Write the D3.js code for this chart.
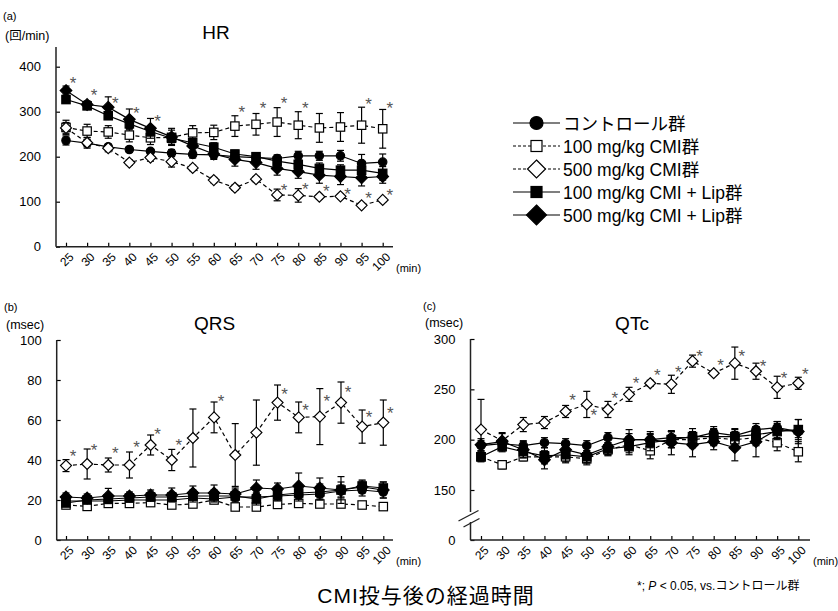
<!DOCTYPE html>
<html><head><meta charset="utf-8">
<script src="https://cdn.jsdelivr.net/npm/d3@7"></script>
<style>
html,body{margin:0;padding:0;background:#fff;}
text{font-family:"Liberation Sans",Arial,"Noto Sans CJK JP",sans-serif;fill:#000;}
</style></head>
<body><svg id="chart" width="838" height="611"></svg>
<script>
// ---------- data ----------
const times = ["25","30","35","40","45","50","55","60","65","70","75","80","85","90","95","100"];
const groups = ["コントロール群","100 mg/kg CMI群","500 mg/kg CMI群","100 mg/kg CMI + Lip群","500 mg/kg CMI + Lip群"];

// HR (回/min)
const hrCtrl     = [236,230,222,216,212,208,205,204,200,198,196,202,202,202,185,188];
const hrCtrlErr  = [10,8,6,6,6,8,8,8,8,8,8,10,10,12,20,18];
const hrCMI100   = [265,257,255,248,242,243,253,254,268,272,277,270,264,266,270,262];
const hrCMI100Err= [16,15,14,15,15,16,16,16,23,24,32,30,32,32,40,43];
const hrCMI500   = [264,231,219,187,198,189,175,148,131,150,115,114,111,112,92,104];
const hrCMI500Err= [12,12,8,6,8,12,6,6,6,6,13,15,5,5,5,5];
const hrLip100   = [327,313,291,273,256,241,231,221,206,200,190,183,174,170,170,163];
const hrLip100Err= [8,8,8,10,10,10,10,10,8,8,8,10,12,12,15,15];
const hrLip500   = [347,316,310,283,263,244,224,206,194,187,174,167,159,156,153,156];
const hrLip500Err= [10,8,23,23,22,19,12,12,15,15,15,15,18,18,18,15];
const hrSig = [[25,370],[30,344],[35,327],[40,304],[45,285],[65,305],[70,315],[75,326],[80,315],[95,324],[100,315],
               [75,132],[80,135],[85,130],[90,124],[95,115],[100,122]];

// QRS (msec)
const qrsCtrl     = [19.5,19.5,19.5,20,20,20,21,20.5,21.5,21.5,22,22.5,23,24.5,25,24];
const qrsCtrlErr  = [1.5,1.5,1.5,1.5,1.5,2,2,2,2,2,2,3,3,3,3,3];
const qrsCMI100   = [17.5,16.8,18.3,18.3,18.7,17.5,18,20,16.5,16.5,17.8,18.3,18,18,17.5,16.7];
const qrsCMI100Err= [1.5,1.5,1.5,1.5,1.5,1.5,1.5,1.5,1.5,1.5,1.5,1.5,1.5,1.5,1.5,1.5];
const qrsCMI500   = [37.2,38,37.5,37.5,47.5,40,51,61.3,42.5,53.7,68.7,61.3,61.7,68.7,56.7,58.7];
const qrsCMI500Err= [3,7.5,3.5,6.5,5,5.3,14.5,7.7,15.7,16.3,8.8,7.7,14,10.3,8.3,11.3];
const qrsLip100   = [18.5,20,20.5,21,21.5,21.5,22,22,22,20.5,22.5,23.5,24,25,27,26];
const qrsLip100Err= [1.5,1.5,2,2,2,2,3,3,3,3,3,4,4,4,3,3];
const qrsLip500   = [21.5,21,22,22,22.5,22.5,23.5,23.5,23,26,25.5,27,26,25,26.5,25];
const qrsLip500Err= [2,2,3.8,2,2.5,3.5,3.5,4,3,4,3,6.5,5,6.7,3,4];
const qrsSig = [[25,43.7],[30,46.7],[35,45],[40,47.8],[45,54.7],[50,49],[60,70.8],[75,74.5],[80,66.7],[85,70.8],[90,75.3],[95,63],[100,65]];

// QTc (msec)
const qtCtrl     = [194,196,194,197,196,194,202,200,200,202,202,207,204,210,212,208];
const qtCtrlErr  = [5,5,5,5,5,5,5,6,6,6,6,6,6,6,6,6];
const qtCMI100   = [183,175,183,183,183,181,190,195,189,200,200,202,200,202,197,188];
const qtCMI100Err= [4,4,4,5,6,6,6,8,8,8,8,8,8,8,8,10];
const qtCMI500   = [210,199,215,217,228,235,230,245,256,255,278,266,276,268,252,256];
const qtCMI500Err= [30,8,7,6,6,13,8,7,3,9,6,2,16,8,11,6];
const qtLip100   = [183,193,188,184,185,183,191,193,197,200,203,203,203,205,208,210];
const qtLip100Err= [5,5,6,8,7,6,6,8,8,8,8,8,8,8,8,10];
const qtLip500   = [195,198,190,180,190,185,193,200,200,197,195,198,192,198,210,208];
const qtLip500Err= [6,8,8,9,8,8,8,10,8,12,12,8,13,15,8,12];
const qtSig = [[45,242],[50,227.5],[55,244],[60,259],[65,267],[70,270],[75,285.6],[80,277],[85,285.6],[90,276],[95,264.7],[100,268]];

const hrTicks  = [0,100,200,300,400];
const qrsTicks = [0,20,40,60,80,100];
const qtTicks  = [0,150,200,250,300];

// ---------- styles ----------
const shapes = ["circle","square","diamond","square","diamond"];
const filled = [true,false,false,true,true];
const dashed = [false,true,true,false,false];

const svg = d3.select("#chart");

function marker(g, i, cx, cy, big){
  const s = shapes[i], f = filled[i] ? "#000" : "#fff";
  let el;
  if (s === "circle") {
    el = g.append("circle").attr("cx",cx).attr("cy",cy).attr("r", big?6.5:4.2);
  } else if (s === "square") {
    const h = big?5.5:4.2;
    el = g.append("rect").attr("x",cx-h).attr("y",cy-h).attr("width",2*h).attr("height",2*h);
  } else {
    const h = big?(filled[i]?10:9):(filled[i]?5.8:5.5);
    el = g.append("path").attr("d",`M${cx},${cy-h}L${cx+h},${cy}L${cx},${cy+h}L${cx-h},${cy}Z`);
  }
  el.attr("fill",f).attr("stroke","#000").attr("stroke-width",1.2);
}

function panel(cfg){
  const g = svg.append("g");
  const x = d3.scalePoint().domain(times).range(cfg.xr);
  const y = d3.scaleLinear().domain(cfg.yd).range(cfg.yr);
  const y0 = y(0);

  // axes
  const ya = g.append("g").attr("transform",`translate(${cfg.ax},0)`)
    .call(d3.axisLeft(y).tickValues(cfg.ticks).tickSizeInner(-4).tickSizeOuter(0).tickPadding(15));
  ya.select(".domain").remove();
  ya.selectAll("text").style("font-size","13px").attr("font-family",null);
  ya.selectAll("line").attr("stroke","#000").attr("stroke-width",1.2);

  const xa = g.append("g").attr("transform",`translate(0,${y0})`)
    .call(d3.axisBottom(x).tickSizeInner(-4).tickSizeOuter(0));
  xa.select(".domain").remove();
  xa.selectAll("line").attr("stroke","#000").attr("stroke-width",1.2);
  xa.selectAll("text").style("font-size","12px")
    .attr("y",null).attr("dy","0.35em").attr("text-anchor","end")
    .attr("transform","translate(5,8) rotate(-45)");

  // axis lines
  if (cfg.brk) {
    g.append("line").attr("x1",cfg.ax).attr("x2",cfg.ax).attr("y1",y(cfg.ytop)).attr("y2",cfg.brk[0]).attr("stroke","#222").attr("stroke-width",1.5);
    g.append("line").attr("x1",cfg.ax).attr("x2",cfg.ax).attr("y1",cfg.brk[1]).attr("y2",y0).attr("stroke","#222").attr("stroke-width",1.5);
    g.append("line").attr("x1",cfg.ax-12).attr("y1",cfg.brk[0]+9).attr("x2",cfg.ax+8).attr("y2",cfg.brk[0]-1.5).attr("stroke","#222").attr("stroke-width",1.3);
    g.append("line").attr("x1",cfg.ax-7).attr("y1",cfg.brk[1]+5).attr("x2",cfg.ax+9).attr("y2",cfg.brk[1]-3.5).attr("stroke","#222").attr("stroke-width",1.3);
  } else {
    g.append("line").attr("x1",cfg.ax).attr("x2",cfg.ax).attr("y1",y(cfg.ytop)).attr("y2",y0).attr("stroke","#222").attr("stroke-width",1.5);
  }
  g.append("line").attr("x1",cfg.ax).attr("x2",cfg.axEnd).attr("y1",y0).attr("y2",y0).attr("stroke","#222").attr("stroke-width",1.5);

  // series
  const line = d3.line().x((d,j)=>x(times[j])).y(d=>y(d));
  cfg.series.forEach((s,i)=>{
    const sg = g.append("g");
    s.v.forEach((v,j)=>{
      const cx = x(times[j]), e = s.e[j];
      sg.append("line").attr("x1",cx).attr("x2",cx).attr("y1",y(v-e)).attr("y2",y(v+e)).attr("stroke","#000").attr("stroke-width",1.2);
      [v-e,v+e].forEach(w=>sg.append("line").attr("x1",cx-3.5).attr("x2",cx+3.5).attr("y1",y(w)).attr("y2",y(w)).attr("stroke","#000").attr("stroke-width",1.2));
    });
    sg.append("path").attr("d",line(s.v)).attr("fill","none").attr("stroke","#000").attr("stroke-width",1.2)
      .attr("stroke-dasharray",dashed[i]?"4,3":null);
    s.v.forEach((v,j)=>marker(sg,i,x(times[j]),y(v),false));
  });

  // significance marks
  cfg.sig.forEach(([t,v])=>{
    g.append("text").attr("x",x(String(t))+7).attr("y",y(v)+9).attr("text-anchor","middle")
      .style("font-size","17px").style("fill","#555").text("*");
  });

  // labels
  g.append("text").attr("x",cfg.lx).attr("y",cfg.ly).style("font-size","11px").text(cfg.tag);
  g.append("text").attr("x",cfg.lx+2).attr("y",cfg.ly+cfg.ud).style("font-size","12.5px").text(cfg.unit);
  g.append("text").attr("x",cfg.tx).attr("y",cfg.ty).attr("text-anchor","middle").style("font-size","19px").text(cfg.title);
  g.append("text").attr("x",cfg.axEnd+3).attr("y",y0+25).style("font-size","11px").text("(min)");
}

panel({xr:[66,382.7], yd:[0,400], yr:[246.7,66.7], ax:56, axEnd:393, ytop:444, ticks:hrTicks,
  series:[{v:hrCtrl,e:hrCtrlErr},{v:hrCMI100,e:hrCMI100Err},{v:hrCMI500,e:hrCMI500Err},{v:hrLip100,e:hrLip100Err},{v:hrLip500,e:hrLip500Err}],
  sig:hrSig, tag:"(a)", unit:"(回/min)", title:"HR", lx:3, ly:20, ud:20, tx:216, ty:39});

panel({xr:[66,383.3], yd:[0,100], yr:[540,340], ax:56.7, axEnd:393, ytop:100, ticks:qrsTicks,
  series:[{v:qrsCtrl,e:qrsCtrlErr},{v:qrsCMI100,e:qrsCMI100Err},{v:qrsCMI500,e:qrsCMI500Err},{v:qrsLip100,e:qrsLip100Err},{v:qrsLip500,e:qrsLip500Err}],
  sig:qrsSig, tag:"(b)", unit:"(msec)", title:"QRS", lx:4, ly:311, ud:18, tx:214.5, ty:330});

panel({xr:[481,798.3], yd:[0,150,300], yr:[540,490,339], ax:470.5, axEnd:810, ytop:300, ticks:qtTicks, brk:[512,522],
  series:[{v:qtCtrl,e:qtCtrlErr},{v:qtCMI100,e:qtCMI100Err},{v:qtCMI500,e:qtCMI500Err},{v:qtLip100,e:qtLip100Err},{v:qtLip500,e:qtLip500Err}],
  sig:qtSig, tag:"(c)", unit:"(msec)", title:"QTc", lx:423, ly:310, ud:17, tx:632, ty:330});

// legend
const lg = svg.append("g");
groups.forEach((name,i)=>{
  const cy = 123 + i*23;
  lg.append("line").attr("x1",513).attr("x2",560).attr("y1",cy).attr("y2",cy)
    .attr("stroke","#000").attr("stroke-width",1.2).attr("stroke-dasharray",dashed[i]?"3,2":null);
  marker(lg,i,536.5,cy,true);
  lg.append("text").attr("x",563).attr("y",cy+6.5).style("font-size","17.5px").text(name);
});

// bottom texts
svg.append("text").attr("x",426).attr("y",603).attr("text-anchor","middle")
  .style("font-size","21px").style("letter-spacing","1px").text("CMI投与後の経過時間");
const fn = svg.append("text").attr("x",637).attr("y",590).style("font-size","12px");
fn.append("tspan").text("*; ");
fn.append("tspan").style("font-style","italic").text("P");
fn.append("tspan").text(" < 0.05, vs.コントロール群");
</script></body></html>
